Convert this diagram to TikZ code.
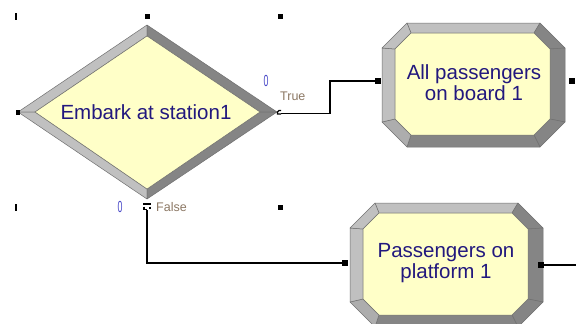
\documentclass[tikz,border=0pt]{standalone}
\usetikzlibrary{calc}
\usepackage{fontspec}
\setmainfont{Liberation Sans}
\definecolor{fillY}{HTML}{FFFFC8}
\definecolor{bevL}{HTML}{C0C0C0}
\definecolor{bevD}{HTML}{858585}
\definecolor{bevE}{HTML}{707070}
\definecolor{txtC}{HTML}{22187E}
\definecolor{lblC}{HTML}{8C7864}
\definecolor{cntC}{HTML}{4848C8}
\newcommand\bevbox[4]{%
  % #1=x0 #2=y0 #3=x1 #4=y1 (outer)
  \coordinate (O1) at ({#1+25},#2);
  \coordinate (O2) at ({#3-25},#2);
  \coordinate (O3) at (#3,{#2+25});
  \coordinate (O4) at (#3,{#4-25});
  \coordinate (O5) at ({#3-25},#4);
  \coordinate (O6) at ({#1+25},#4);
  \coordinate (O7) at (#1,{#4-25});
  \coordinate (O8) at (#1,{#2+25});
  \coordinate (I1) at ({#1+13+16},{#2+10});
  \coordinate (I2) at ({#3-15-16},{#2+10});
  \coordinate (I3) at ({#3-15},{#2+10+16});
  \coordinate (I4) at ({#3-15},{#4-12-16});
  \coordinate (I5) at ({#3-15-16},{#4-12});
  \coordinate (I6) at ({#1+13+16},{#4-12});
  \coordinate (I7) at ({#1+13},{#4-12-16});
  \coordinate (I8) at ({#1+13},{#2+10+16});
  \path[bevpiece,fill=bevL] (O1)--(O2)--(I2)--(I1)--cycle;
  \path[bevpiece,fill=bevD] (O2)--(O3)--(I3)--(I2)--cycle;
  \path[bevpiece,fill=bevD] (O3)--(O4)--(I4)--(I3)--cycle;
  \path[bevpiece,fill=bevD] (O4)--(O5)--(I5)--(I4)--cycle;
  \path[bevpiece,fill=bevD] (O5)--(O6)--(I6)--(I5)--cycle;
  \path[bevpiece,fill=bevL!90!black] (O6)--(O7)--(I7)--(I6)--cycle;
  \path[bevpiece,fill=bevL] (O7)--(O8)--(I8)--(I7)--cycle;
  \path[bevpiece,fill=bevL] (O8)--(O1)--(I1)--(I8)--cycle;
  \path[fill=fillY,draw=bevE,line width=0.5pt] (I1)--(I2)--(I3)--(I4)--(I5)--(I6)--(I7)--(I8)--cycle;
}
\begin{document}
\begin{tikzpicture}[x=1pt,y=-1pt,
  bevpiece/.style={draw=bevE,line width=0.5pt,line join=round},
  maintext/.style={text=txtC,font=\fontsize{20.5}{21}\selectfont,align=center,inner sep=0pt},
  smalllbl/.style={text=lblC,font=\fontsize{12.5}{12.5}\selectfont,inner sep=0pt,anchor=west},
  cntlbl/.style={text=cntC,font=\fontsize{16}{16}\selectfont,inner sep=0pt,xscale=0.55},
  port/.style={fill=black,draw=none},
  conn/.style={draw=black,line width=1.3pt},
  handle/.style={fill=black,draw=none}]
\useasboundingbox (0,0) rectangle (576,324);
\fill[white] (0,0) rectangle (576,324);

% ---- decision diamond ----
\coordinate (DL) at (18,112);
\coordinate (DT) at (147,25);
\coordinate (DR) at (277,112);
\coordinate (DB) at (147,199);
\coordinate (dl) at (35,112);
\coordinate (dt) at (147,36);
\coordinate (dr) at (260,112);
\coordinate (db) at (147,189);
\path[bevpiece,fill=bevL] (DL)--(DT)--(dt)--(dl)--cycle;
\path[bevpiece,fill=bevL] (DL)--(DB)--(db)--(dl)--cycle;
\path[bevpiece,fill=bevD] (DT)--(DR)--(dr)--(dt)--cycle;
\path[bevpiece,fill=bevD] (DR)--(DB)--(db)--(dr)--cycle;
\path[fill=fillY,draw=bevE,line width=0.5pt] (dl)--(dt)--(dr)--(db)--cycle;
\node[maintext] (dec) at (146,112) {Embark at station1};

% selection handles
\fill[handle] (15,13) rectangle (17,20);
\fill[handle] (15,204) rectangle (17,211);
\fill[handle] (144.5,13.5) rectangle (149.5,18.5);
\fill[handle] (277.5,13.5) rectangle (282.5,18.5);
\fill[handle] (277.5,204.5) rectangle (282.5,209.5);
\fill[port] (15.5,110) rectangle (19.5,114.5);

% ---- process boxes ----
\bevbox{382}{23}{565}{147}
\node[maintext] (box1) at (474,83) {All passengers\\on board 1};
\bevbox{350}{203}{543}{327}
\node[maintext] (box2) at (446,263) {Passengers on\\platform 1};

% ports
\coordinate (b1in) at (378,81);
\coordinate (b1out) at (572,81);
\coordinate (b2in) at (345,263);
\coordinate (b2out) at (541,265);
\coordinate (b2end) at (576,265);
\fill[port] ($(b1in)+(-3,-3)$) rectangle ($(b1in)+(3,3)$);
\fill[port] ($(b1out)+(-3,-3)$) rectangle ($(b1out)+(3,3)$);
\fill[port] ($(b2in)+(-3,-3)$) rectangle ($(b2in)+(3,3)$);
\fill[port] ($(b2out)+(-3,-3)$) rectangle ($(b2out)+(3,3)$);

% exit points of the decision
\coordinate (tout) at (281,113.5);
\coordinate (tbend) at (330,113.5);
\coordinate (fout) at (147,210);
\draw[line width=1.2pt] (281,110.5) -- (279,110.5) -- (277.5,112) -- (277.5,114) -- (281,114);
\draw[line width=1.2pt] (143,204) -- (151,204);
\draw[line width=1.1pt] (144,206.5) -- (144,209.5) -- (147,209.5);
\draw[line width=1.1pt] (150,206.5) -- (150,208.5);

% connectors
\draw[conn] (tout) -- (tbend) |- (b1in);
\draw[conn] (fout) |- (b2in);
\draw[conn] (b2out) -- (b2end);

% labels
\node[smalllbl] (tlbl) at (280,96) {True};
\node[smalllbl] (flbl) at (156,207) {False};
\node[cntlbl] (tcnt) at (266,81) {0};
\node[cntlbl] (fcnt) at (120,207) {0};
\end{tikzpicture}
\end{document}
